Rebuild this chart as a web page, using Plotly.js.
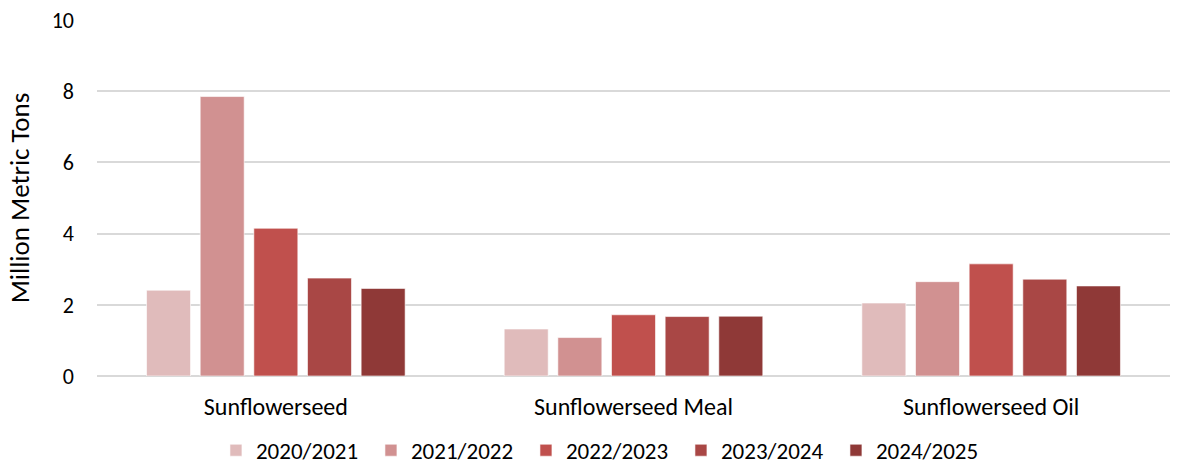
<!DOCTYPE html>
<html>
<head>
<meta charset="utf-8">
<script src="https://cdn.plot.ly/plotly-3.0.1.min.js"></script>
<style>html,body{margin:0;padding:0;background:#fff;}#chart{width:1182px;height:469px;}</style>
</head>
<body>
<div id="chart"></div>
<script>
const categories = ["Sunflowerseed", "Sunflowerseed Meal", "Sunflowerseed Oil"];
const seasons = ["2020/2021", "2021/2022", "2022/2023", "2023/2024", "2024/2025"];
const v2020 = [2.41, 1.32, 2.05];
const v2021 = [7.85, 1.08, 2.65];
const v2022 = [4.15, 1.72, 3.15];
const v2023 = [2.75, 1.67, 2.72];
const v2024 = [2.46, 1.68, 2.53];
const colors = ["#E0BBBB", "#D19191", "#C0504D", "#A94745", "#8F3937"];
const series = [v2020, v2021, v2022, v2023, v2024];

const font = "Carlito, Calibri, sans-serif";
const traces = series.map((vals, i) => ({
  type: "bar",
  name: seasons[i],
  x: categories,
  y: vals,
  marker: {color: colors[i], line: {color: "rgba(255,255,255,0.6)", width: 1}},
  hoverinfo: "none"
}));

const layout = {
  width: 1182, height: 469,
  margin: {l: 97, r: 12, t: 20, b: 93},
  paper_bgcolor: "#fff", plot_bgcolor: "#fff",
  font: {family: font, size: 22, color: "#000"},
  barmode: "group",
  bargap: 0.25,
  bargroupgap: 0.18,
  xaxis: {
    showgrid: false, showline: false, zeroline: false,
    ticks: "", ticklabelstandoff: 14, tickfont: {size: 24, family: font, color: "#000"}
  },
  yaxis: {
    range: [0, 10], dtick: 2,
    showgrid: true, gridcolor: "#D9D9D9", gridwidth: 2,
    zeroline: true, zerolinecolor: "#D9D9D9", zerolinewidth: 2,
    showline: false, ticks: "", ticklen: 0,
    tickfont: {size: 22, family: font, color: "#000"},
    ticklabelstandoff: 22,
    title: {text: "Million Metric Tons", font: {size: 27, family: font, color: "#000"}, standoff: 14}
  },
  legend: {
    orientation: "h", x: 0.472, xanchor: "center",
    yref: "container", y: 0.04, yanchor: "middle",
    font: {size: 23, family: font, color: "#000"},
    itemwidth: 30, tracegroupgap: 0,
    entrywidth: 110, entrywidthmode: "pixels"
  },
  showlegend: true
};

Plotly.newPlot("chart", traces, layout, {staticPlot: true, displayModeBar: false});
</script>
</body>
</html>
